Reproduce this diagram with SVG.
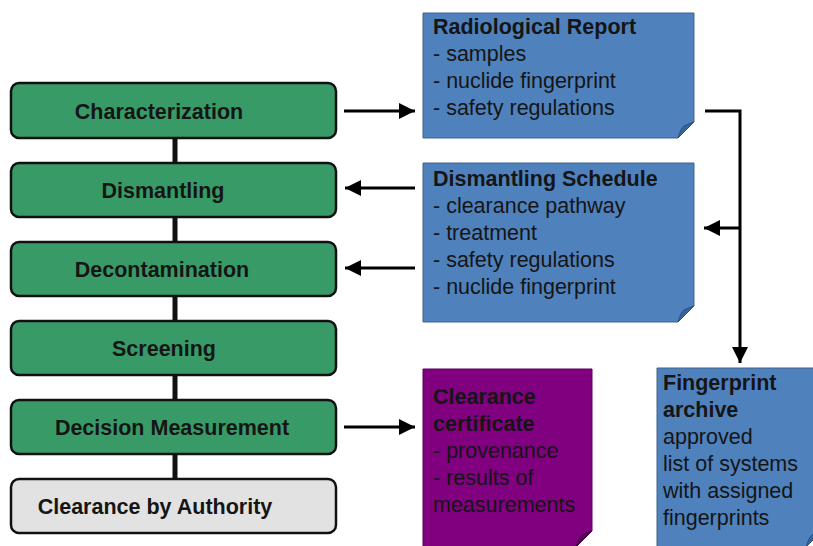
<svg xmlns="http://www.w3.org/2000/svg" width="813" height="546" viewBox="0 0 813 546">
  <style>
    .step { fill: #389b67; stroke: #111; stroke-width: 2.5; }
    .final { fill: #e2e2e2; stroke: #111; stroke-width: 2.5; }
    .note { fill: #4f81bd; stroke: #41638c; stroke-width: 1; }
    .cert { fill: #800080; stroke: #5a005a; stroke-width: 1; }
    .fold-blue { fill: #37629a; stroke: #2c4f7c; stroke-width: 1; }
    .fold-purple { fill: #5c005c; stroke: #400040; stroke-width: 1; }
    .label { font-family: "Liberation Sans", Arial, sans-serif; font-size: 21.5px; font-weight: bold; fill: #151515; text-anchor: middle; }
    .txt { font-family: "Liberation Sans", Arial, sans-serif; font-size: 21.5px; fill: #151515; }
    .txt .b { font-weight: bold; }
    .wire { fill: none; stroke: #000; stroke-width: 3; }
  </style>
  <defs>
    <marker id="arrow" markerUnits="userSpaceOnUse" markerWidth="18" markerHeight="18" refX="16" refY="8" orient="auto">
      <path d="M0,0 L16,8 L0,16 Z" fill="#000"/>
    </marker>
  </defs>

  <!-- process spine -->
  <g id="spine">
    <line x1="175" y1="138" x2="175" y2="479" stroke="#111" stroke-width="5"/>
  </g>

  <!-- process steps -->
  <g id="characterization">
    <rect class="step" x="11" y="83" width="325" height="55" rx="8"/>
    <text class="label" x="159" y="119">Characterization</text>
  </g>
  <g id="dismantling">
    <rect class="step" x="11" y="163" width="325" height="54" rx="8"/>
    <text class="label" x="163" y="198">Dismantling</text>
  </g>
  <g id="decontamination">
    <rect class="step" x="11" y="242" width="325" height="54" rx="8"/>
    <text class="label" x="162" y="277">Decontamination</text>
  </g>
  <g id="screening">
    <rect class="step" x="11" y="321" width="325" height="54" rx="8"/>
    <text class="label" x="164" y="356">Screening</text>
  </g>
  <g id="decision-measurement">
    <rect class="step" x="11" y="400" width="325" height="54" rx="8"/>
    <text class="label" x="172" y="435">Decision Measurement</text>
  </g>
  <g id="clearance-authority">
    <rect class="final" x="11" y="479" width="325" height="54" rx="8"/>
    <text class="label" x="155" y="514">Clearance by Authority</text>
  </g>

  <!-- documents -->
  <g id="radiological-report">
    <path class="note" d="M423,13 H694 V122 L678,138 H423 Z"/>
    <path class="fold-blue" d="M694,122 L678,138 Q681,128 684,126 Q688,124 694,122 Z"/>
    <text class="txt" x="433" y="34"><tspan class="b">Radiological Report</tspan><tspan x="433" y="61">- samples</tspan><tspan x="433" y="88">- nuclide fingerprint</tspan><tspan x="433" y="115">- safety regulations</tspan></text>
  </g>
  <g id="dismantling-schedule">
    <path class="note" d="M423,163 H694 V306 L678,322 H423 Z"/>
    <path class="fold-blue" d="M694,306 L678,322 Q681,312 684,310 Q688,308 694,306 Z"/>
    <text class="txt" x="433" y="186"><tspan class="b">Dismantling Schedule</tspan><tspan x="433" y="213">- clearance pathway</tspan><tspan x="433" y="240">- treatment</tspan><tspan x="433" y="267">- safety regulations</tspan><tspan x="433" y="294">- nuclide fingerprint</tspan></text>
  </g>
  <g id="clearance-certificate">
    <path class="cert" d="M423,369 H592 V531 L576,547 H423 Z"/>
    <path class="fold-purple" d="M592,531 L576,547 Q579,537 582,535 Q586,533 592,531 Z"/>
    <text class="txt" x="433" y="404"><tspan class="b">Clearance</tspan><tspan class="b" x="433" y="431">certificate</tspan><tspan x="433" y="458">- provenance</tspan><tspan x="433" y="485">- results of</tspan><tspan x="433" y="512">measurements</tspan></text>
  </g>
  <g id="fingerprint-archive">
    <path class="note" d="M657,368 H822 V531 L806,547 H657 Z"/>
    <path class="fold-blue" d="M822,531 L806,547 Q809,537 812,535 Q816,533 822,531 Z"/>
    <text class="txt" x="663" y="390"><tspan class="b">Fingerprint</tspan><tspan class="b" x="663" y="417">archive</tspan><tspan x="663" y="444">approved</tspan><tspan x="663" y="471">list of systems</tspan><tspan x="663" y="498">with assigned</tspan><tspan x="663" y="525">fingerprints</tspan></text>
  </g>

  <!-- connectors -->
  <g id="connectors">
    <line class="wire" x1="344" y1="111" x2="415" y2="111" marker-end="url(#arrow)"/>
    <line class="wire" x1="415" y1="188" x2="345" y2="188" marker-end="url(#arrow)"/>
    <line class="wire" x1="415" y1="268" x2="345" y2="268" marker-end="url(#arrow)"/>
    <line class="wire" x1="344" y1="427" x2="415" y2="427" marker-end="url(#arrow)"/>
    <path class="wire" d="M705,111 H740 V363" marker-end="url(#arrow)"/>
    <line class="wire" x1="740" y1="228" x2="704" y2="228" marker-end="url(#arrow)"/>
  </g>
</svg>
